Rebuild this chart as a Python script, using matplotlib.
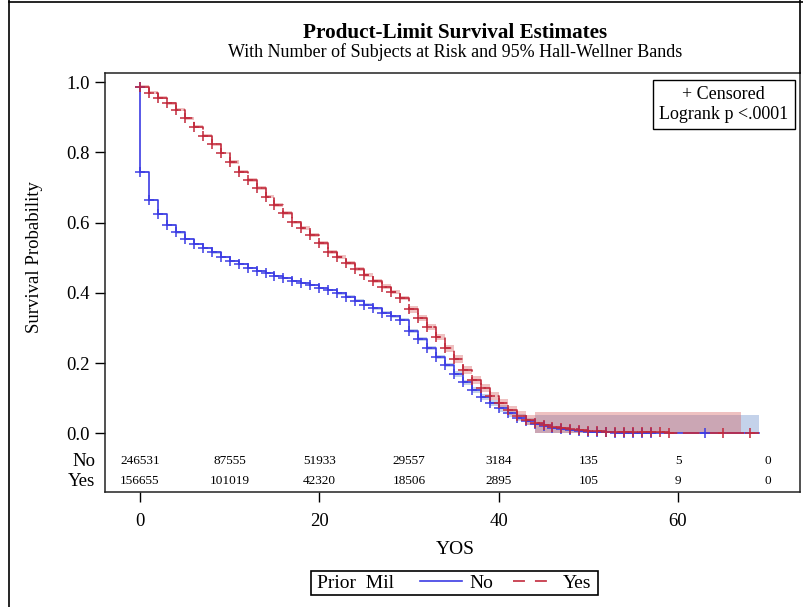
import matplotlib
matplotlib.use("Agg")
import matplotlib.pyplot as plt
from matplotlib.lines import Line2D
from matplotlib.patches import Rectangle
import matplotlib.transforms as mtransforms

plt.rcParams["font.family"] = "serif"
plt.rcParams["font.serif"] = ["Liberation Serif", "DejaVu Serif"]
plt.rcParams["font.size"] = 13.5
plt.rcParams["lines.scale_dashes"] = False

# Prior Mil = No  (Kaplan-Meier steps, years of service)
no_t = [0, 0, 1, 2, 3, 4, 5, 6, 7, 8, 9, 10, 11, 12, 13, 14, 15, 16, 17, 18, 19,
        20, 21, 22, 23, 24, 25, 26, 27, 28, 29, 30, 31, 32, 33, 34, 35, 36, 37, 38, 39,
        40, 41, 42, 43, 44, 45, 46, 47, 48, 49, 50, 51, 52, 53, 54, 55, 56, 57]
no_s = [0.987, 0.745, 0.665, 0.624, 0.593, 0.572, 0.553, 0.538, 0.527, 0.515, 0.503,
        0.491, 0.481, 0.470, 0.462, 0.456, 0.448, 0.442, 0.435, 0.429, 0.422,
        0.415, 0.408, 0.399, 0.389, 0.378, 0.366, 0.356, 0.344, 0.333, 0.323,
        0.291, 0.268, 0.244, 0.218, 0.195, 0.169, 0.145, 0.123, 0.104, 0.087,
        0.071, 0.057, 0.044, 0.035, 0.028, 0.021, 0.016, 0.011, 0.009, 0.006,
        0.004, 0.003, 0.003, 0.002, 0.002, 0.002, 0.001, 0.001]
no_hw = [0.003] * 22 + [0.004] * 9 + [0.006] * 5 + [0.008] * 5 + [0.010] * 4
no_tail_top = 0.052
no_cens = [63]
no_end = 69
no_band_end = 69

# Prior Mil = Yes
yes_t = list(range(0, 60))
yes_s = [0.987, 0.970, 0.956, 0.940, 0.921, 0.897, 0.873, 0.848, 0.823, 0.798,
         0.772, 0.745, 0.722, 0.698, 0.674, 0.650, 0.627, 0.601, 0.584, 0.565,
         0.541, 0.517, 0.503, 0.484, 0.467, 0.451, 0.434, 0.418, 0.402, 0.385,
         0.353, 0.328, 0.302, 0.274, 0.242, 0.211, 0.180, 0.152, 0.130, 0.107,
         0.085, 0.066, 0.050, 0.038, 0.030, 0.024, 0.019, 0.014, 0.012, 0.009,
         0.008, 0.006, 0.005, 0.005, 0.004, 0.004, 0.004, 0.004, 0.004, 0.001]
yes_hw = [0.004] * 10 + [0.005] * 10 + [0.006] * 10 + [0.009] * 5 + [0.011] * 5 + [0.013] * 4
yes_tail_top = 0.060
yes_cens = [65, 68]
yes_end = 69
yes_band_end = 67

# number at risk
risk_t = [0, 10, 20, 30, 40, 50, 60, 70]
risk_no = [246531, 87555, 51933, 29557, 3184, 135, 5, 0]
risk_yes = [156655, 101019, 42320, 18506, 2895, 105, 9, 0]

blue = "#3c3ce4"
red = "#c22a3c"

fig = plt.figure(figsize=(8.04, 6.07), dpi=100)
ax = fig.add_axes([105 / 804, 1 - 492 / 607, 695 / 804, 419 / 607])


def draw_group(t, s, hw, tail_top, end, band_end, cens, color, band_color, band_alpha, dashes):
    n = len(hw)
    bt = list(t[:n]) + [t[n], band_end]
    lo = [max(v - h, 0) for v, h in zip(s[:n], hw)] + [0, 0]
    hi = [v + h for v, h in zip(s[:n], hw)] + [tail_top, tail_top]
    ax.fill_between(bt, lo, hi, step="post", color=band_color, alpha=band_alpha, lw=0, zorder=1)
    xs = list(t) + [end]
    ys = list(s) + [s[-1]]
    ln, = ax.step(xs, ys, where="post", color=color, lw=1.2, zorder=3)
    if dashes:
        ln.set_dashes(dashes)
    ax.plot(t, s, ls="none", marker="+", ms=7, mew=1.1, color=color, zorder=4)
    ax.plot(cens, [0.0015] * len(cens), ls="none", marker="+", ms=7, mew=1.1, color=color, zorder=4)


draw_group(no_t, no_s, no_hw, no_tail_top, no_end, no_band_end, no_cens, blue, "#9db4dc", 0.6, None)
draw_group(yes_t, yes_s, yes_hw, yes_tail_top, yes_end, yes_band_end, yes_cens, red, "#d76464", 0.4, (12, 4))

ax.set_xlim(-3.9, 73.6)
ax.set_ylim(-0.167, 1.026)
ax.set_xticks([0, 20, 40, 60])
ax.set_yticks([0.0, 0.2, 0.4, 0.6, 0.8, 1.0])
ax.set_yticklabels(["0.0", "0.2", "0.4", "0.6", "0.8", "1.0"])
ax.tick_params(direction="out", length=7, width=1, labelsize=13.5)
ax.tick_params(axis="x", pad=8)
ax.tick_params(axis="y", pad=4)
for sp in ax.spines.values():
    sp.set_linewidth(1.1)
    sp.set_color("#222222")

trans = mtransforms.blended_transform_factory(ax.transAxes, ax.transData)
for label, vals, yv in [("No", risk_no, -0.079), ("Yes", risk_yes, -0.136)]:
    ax.text(-0.0144, yv, label, transform=trans, ha="right", va="center", fontsize=13.5)
    for x, v in zip(risk_t, vals):
        ax.text(x, yv, str(v), ha="center", va="center", fontsize=9.5)

ax.text(0.983, 0.969, "+ Censored\nLogrank p <.0001", transform=ax.transAxes,
        ha="right", va="top", multialignment="center", fontsize=13,
        bbox=dict(boxstyle="square,pad=0.35", fc="white", ec="black", lw=1))

fig.text(455 / 804, 1 - 33 / 607, "Product-Limit Survival Estimates", ha="center", va="center",
         fontsize=15.2, fontweight="bold")
fig.text(455 / 804, 1 - 52 / 607, "With Number of Subjects at Risk and 95% Hall-Wellner Bands",
         ha="center", va="center", fontsize=13)
fig.text(455 / 804, 1 - 550 / 607, "YOS", ha="center", va="center", fontsize=14)
fig.text(35 / 804, 1 - 257 / 607, "Survival Probability", ha="center", va="center",
         rotation=90, fontsize=13.5)

# bottom legend
fig.add_artist(Rectangle((311 / 804, 1 - 595 / 607), 287 / 804, 24 / 607,
                         transform=fig.transFigure, fill=False, ec="black", lw=1.2))
fig.text(317 / 804, 1 - 583 / 607, "Prior  Mil", ha="left", va="center", fontsize=14)
h_no = Line2D([], [], color=blue, lw=1.2)
h_yes = Line2D([], [], color=red, lw=1.2, dashes=(8.6, 7.2))
fig.legend([h_no, h_yes], ["No", "Yes"], loc="center left", bbox_to_anchor=(420 / 804, 1 - 583 / 607),
           ncol=2, frameon=False, fontsize=14, handlelength=2.15, handletextpad=0.4,
           columnspacing=1.0, borderpad=0, borderaxespad=0)

# outer border
fig.add_artist(Line2D([9 / 804, 9 / 804], [0, 1], transform=fig.transFigure, color="black", lw=1.2))
fig.add_artist(Line2D([9 / 804, 1], [1 - 1.5 / 607, 1 - 1.5 / 607], transform=fig.transFigure,
                      color="black", lw=1.2))
fig.add_artist(Line2D([800 / 804, 800 / 804], [1 - 73 / 607, 1], transform=fig.transFigure,
                      color="black", lw=1.2))

fig.savefig("out.png", dpi=100)
